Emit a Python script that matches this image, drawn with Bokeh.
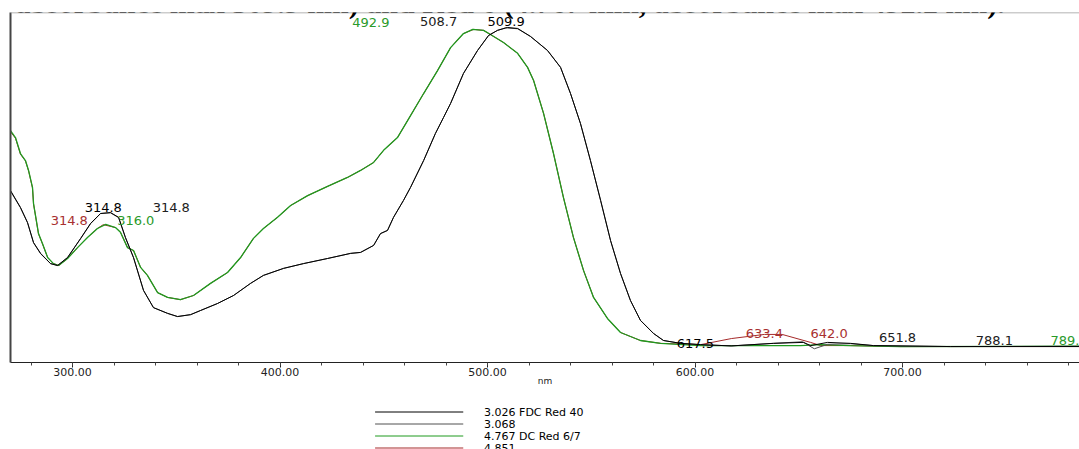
from bokeh.plotting import figure
from bokeh.models import (Range1d, SingleIntervalTicker, NumeralTickFormatter,
                          Label, FixedTicker, Span)
from bokeh.layouts import column
from bokeh.core.properties import value
from bokeh.embed import file_html
from bokeh.resources import INLINE

caption = ", absorbance max 509.9 nm) and Red 6 (4.767 min, absorbance max 492.2 nm)."

series_names = ["3.026 FDC Red 40", "3.068", "4.767 DC Red 6/7", "4.851"]
series_colors = ["#000000", "#505050", "#1f9a1f", "#a52a2a"]
label_colors = ["#000000", "#202020", "#2a9a2a", "#a83030"]

# 3.026 FDC Red 40 (black)
wl_black = [270.1, 274.9, 278.3, 281.2, 284.6, 289.4, 292.8, 297.6, 303.9, 308.7,
            313.5, 318.3, 322.2, 325.5, 329.4, 334.2, 339.0, 345.8, 350.6, 356.9,
            361.7, 369.9, 377.6, 385.8, 392.0, 401.7, 411.3, 422.9, 434.0, 438.8,
            445.1, 448.4, 451.8, 454.7, 459.5, 462.9, 469.2, 474.9, 478.8, 482.2,
            488.4, 495.2, 500.5, 504.8, 509.6, 514.5, 520.7, 528.9, 535.2, 540.0,
            544.8, 549.6, 554.5, 559.3, 564.1, 568.9, 573.7, 580.0, 584.8, 593.0,
            602.7, 617.5, 637.8, 652.3, 655.7, 663.9, 674.9, 686.0, 723.1, 785.3, 800.0]
abs_black = [49.2, 43.9, 39.2, 32.9, 29.5, 26.3, 25.7, 28.2, 34.2, 38.9,
             42.0, 42.3, 40.8, 34.5, 28.2, 17.9, 12.5, 10.7, 9.7, 10.3,
             11.6, 13.8, 16.3, 20.1, 22.6, 24.8, 26.3, 27.9, 29.5, 29.8,
             32.0, 35.7, 36.7, 40.8, 46.1, 50.2, 58.6, 67.1, 72.1, 76.5,
             85.9, 93.1, 97.8, 99.4, 100.3, 100.0, 97.5, 93.1, 87.8, 79.6,
             70.2, 58.6, 46.1, 33.5, 23.2, 14.7, 8.5, 4.4, 2.2, 1.3,
             0.9, 0.5, 1.3, 1.6, 0.6, 1.6, 1.3, 0.6, 0.3, 0.3, 0.3]

# 3.068 (gray)
wl_gray = [270.1, 274.9, 278.3, 281.2, 284.6, 289.4, 292.8, 297.6, 303.9, 308.7,
           313.5, 318.3, 322.2, 325.5, 329.4, 334.2, 339.0, 345.8, 350.6, 356.9,
           361.7, 369.9, 377.6, 385.8, 392.0, 401.7, 411.3, 422.9, 434.0, 438.8,
           445.1, 448.4, 451.8, 454.7, 459.5, 462.9, 469.2, 474.9, 478.8, 482.2,
           488.4, 495.2, 500.5, 504.8, 508.7, 514.5, 520.7, 528.9, 535.2, 540.0,
           544.8, 549.6, 554.5, 559.3, 564.1, 568.9, 573.7, 580.0, 584.8, 593.0,
           602.7, 617.5, 637.8, 651.8, 657.5, 663.9, 674.9, 686.0, 723.1, 788.1, 800.0]
abs_gray = [49.0, 43.8, 39.1, 32.8, 29.4, 26.3, 25.7, 28.2, 34.1, 38.8,
            42.0, 42.2, 40.7, 34.4, 28.1, 17.9, 12.5, 10.7, 9.7, 10.3,
            11.6, 13.8, 16.3, 20.1, 22.6, 24.8, 26.3, 27.9, 29.5, 29.8,
            32.0, 35.7, 36.7, 40.8, 46.1, 50.2, 58.6, 67.1, 72.1, 76.5,
            85.9, 93.1, 97.8, 99.4, 100.2, 99.9, 97.5, 93.1, 87.8, 79.6,
            70.2, 58.6, 46.1, 33.5, 23.2, 14.7, 8.5, 4.4, 2.2, 1.3,
            0.9, 0.5, 1.3, 1.8, -0.4, 1.0, 1.2, 0.6, 0.3, 0.4, 0.3]

# 4.767 DC Red 6/7 (green)
wl_green = [270.1, 272.5, 274.9, 277.3, 278.8, 280.7, 281.2, 283.6, 285.5, 288.0,
            290.8, 293.3, 297.6, 302.4, 307.2, 312.0, 316.0, 320.7, 323.1, 326.5,
            329.4, 332.8, 336.1, 341.0, 345.8, 352.0, 358.3, 366.5, 374.7, 381.0,
            387.2, 392.0, 398.8, 405.1, 413.3, 422.9, 432.5, 438.8, 445.1, 449.9,
            456.6, 462.9, 469.2, 475.9, 482.2, 488.4, 492.9, 498.1, 501.4, 507.7,
            514.5, 519.3, 522.2, 527.0, 531.8, 536.6, 541.4, 546.3, 551.1, 557.8,
            564.1, 573.7, 583.4, 602.7, 650.8, 660.5, 674.9, 699.0, 789.4, 800.0]
abs_green = [68.0, 65.8, 60.8, 58.6, 55.5, 50.2, 45.1, 35.7, 32.6, 28.2,
             26.3, 25.7, 27.9, 31.3, 34.5, 37.3, 38.6, 37.6, 36.1, 31.3,
             30.4, 25.1, 22.6, 17.2, 15.7, 15.0, 16.3, 20.1, 23.5, 28.2,
             34.2, 37.3, 40.8, 44.5, 47.6, 50.5, 53.3, 55.5, 58.0, 61.8,
             65.8, 72.7, 79.6, 86.8, 94.0, 98.4, 99.7, 99.4, 98.1, 95.6,
             92.2, 87.8, 83.7, 73.4, 60.8, 47.0, 34.5, 24.1, 15.7, 9.1,
             4.7, 2.2, 1.3, 0.6, 0.6, 0.9, 0.6, 0.3, 0.4, 0.3]

# 4.851 (dark red)
wl_red = [270.1, 272.5, 274.9, 277.3, 278.8, 280.7, 281.2, 283.6, 285.5, 288.0,
          290.8, 293.3, 297.6, 302.4, 307.2, 312.0, 314.8, 320.7, 323.1, 326.5,
          329.4, 332.8, 336.1, 341.0, 345.8, 352.0, 358.3, 366.5, 374.7, 381.0,
          387.2, 392.0, 398.8, 405.1, 413.3, 422.9, 432.5, 438.8, 445.1, 449.9,
          456.6, 462.9, 469.2, 475.9, 482.2, 488.4, 493.3, 498.1, 501.4, 507.7,
          514.5, 519.3, 522.2, 527.0, 531.8, 536.6, 541.4, 546.3, 551.1, 557.8,
          564.1, 573.7, 583.4, 602.7, 617.5, 633.4, 642.0, 655.7, 660.5, 674.9,
          699.0, 785.3, 800.0]
abs_red = [67.6, 65.6, 60.6, 58.5, 55.4, 50.0, 45.0, 35.6, 32.5, 28.2,
           26.3, 25.7, 27.9, 31.3, 34.5, 37.3, 38.5, 37.6, 36.1, 31.3,
           30.4, 25.1, 22.6, 17.2, 15.7, 15.0, 16.3, 20.1, 23.5, 28.2,
           34.2, 37.3, 40.8, 44.5, 47.6, 50.5, 53.3, 55.5, 58.0, 61.8,
           65.8, 72.7, 79.6, 86.8, 94.0, 98.4, 99.7, 99.4, 98.1, 95.6,
           92.2, 87.8, 83.7, 73.4, 60.8, 47.0, 34.5, 24.1, 15.7, 9.1,
           4.7, 2.2, 1.3, 0.9, 2.8, 4.1, 4.1, 1.6, 0.6, 0.6,
           0.3, 0.3, 0.3]

# peak labels
peak_text = ["314.8", "314.8", "314.8", "316.0", "492.9", "508.7", "509.9",
             "617.5", "633.4", "642.0", "651.8", "788.1", "789.4"]
peak_nm = [314.8, 314.8, 314.8, 316.0, 492.9, 508.7, 509.9,
           617.5, 633.4, 642.0, 651.8, 788.1, 789.4]
peak_abs = [42.3, 42.2, 38.5, 38.6, 99.7, 100.2, 100.3,
            0.5, 4.1, 4.1, 1.8, 0.4, 0.4]
peak_series = [0, 1, 3, 2, 2, 1, 0, 0, 3, 3, 1, 1, 2]
# label placement offsets in screen pixels (de-overlapping, as in the instrument print-out)
peak_dx = [0, 68, -34, 30, -102, -67, -2, -36, 0, 47, 95, -91, -19]
peak_dy = [-5, -5, -4, -4, -7, -6, -6, -2, -1, -1, -4, -6, -6]

FONT = value("DejaVu Sans")

p = figure(width=1079, height=400, x_range=Range1d(270.1, 785.3), y_range=Range1d(-4.7, 105.0),
           output_backend="svg", toolbar_location=None,
           min_border_left=10, min_border_right=0, min_border_top=12, min_border_bottom=38)
p.grid.visible = False
p.outline_line_color = None
p.background_fill_color = "white"
p.border_fill_color = "white"

xa = p.below[0]
ya = p.left[0]

# left axis: plain frame line
ya.ticker = FixedTicker(ticks=[])
ya.major_tick_out = 0
ya.minor_tick_out = 0
ya.major_label_standoff = 0
ya.axis_line_color = "#444444"
ya.axis_line_width = 2

xa.ticker = SingleIntervalTicker(interval=100, num_minor_ticks=5)
xa.formatter = NumeralTickFormatter(format="0.00")
xa.major_tick_in = 0
xa.major_tick_out = 5
xa.minor_tick_in = 0
xa.minor_tick_out = 3
xa.axis_line_color = "#222222"
xa.major_tick_line_color = "#222222"
xa.minor_tick_line_color = "#444444"
xa.major_label_standoff = 0
xa.major_label_text_font = "DejaVu Sans"
xa.major_label_text_font_size = "11px"
xa.major_label_text_color = "#222222"
xa.axis_label = "nm"
xa.axis_label_text_font = "DejaVu Sans"
xa.axis_label_text_font_size = "9px"
xa.axis_label_text_font_style = "normal"
xa.axis_label_text_color = "#222222"
xa.axis_label_standoff = -3

# top frame border
p.add_layout(Span(location=p.y_range.end, dimension="width", line_color="#9a9a9a", line_width=1.5))

curves = [(wl_black, abs_black), (wl_gray, abs_gray), (wl_green, abs_green), (wl_red, abs_red)]
widths = [1, 1, 1.3, 1]
for idx in [3, 2, 1, 0]:
    x, y = curves[idx]
    p.line(x, y, line_color=series_colors[idx], line_width=widths[idx])

p.text(x=peak_nm, y=peak_abs, text=peak_text,
       text_color=[label_colors[s] for s in peak_series],
       x_offset=peak_dx, y_offset=peak_dy,
       text_font=FONT, text_font_size="13px", text_align="center", text_baseline="alphabetic")

cap = Label(x=-10, y=360.5, x_units="screen", y_units="screen", text=caption,
            text_font="Liberation Serif", text_font_style="bold", text_font_size="30px",
            text_baseline="alphabetic", text_color="#000000")
p.add_layout(cap)

# legend panel below the chart
leg = figure(width=1079, height=49, x_range=Range1d(0, 1079), y_range=Range1d(49, 0),
             output_backend="svg", toolbar_location=None, min_border=0,
             x_axis_location=None, y_axis_location=None)
leg.grid.visible = False
leg.outline_line_color = None
rows = list(range(len(series_names)))
row_y = [11.5 + 12 * i for i in rows]
leg.segment(x0=[368 for _ in rows], x1=[457 for _ in rows], y0=row_y, y1=row_y,
            line_color=series_colors, line_width=1)
leg.text(x=[478 for _ in rows], y=row_y, text=series_names, text_color="#000000",
         text_font=FONT, text_font_size="11px", text_baseline="middle")

layout = column(p, leg, spacing=0)
open("out.html", "w").write(file_html(layout, INLINE))
